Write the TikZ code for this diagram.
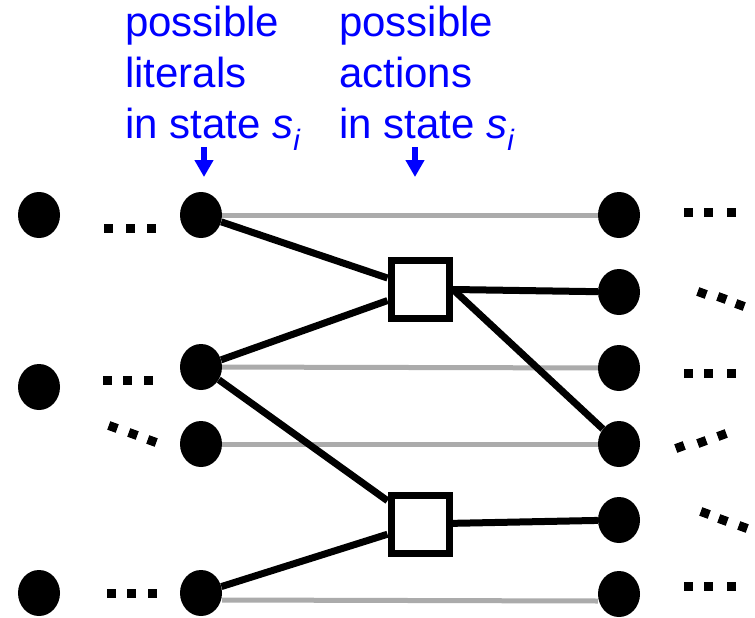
\documentclass[tikz,border=0pt]{standalone}
\usepackage{fontspec}
\setmainfont{Liberation Sans}
\usetikzlibrary{shapes.geometric,arrows.meta}
\definecolor{lblblue}{RGB}{0,0,255}

\tikzset{lit/.style = {ellipse, fill=black, minimum width=42pt, minimum height=46pt, inner sep=0pt},
         act/.style = {rectangle, draw, line width=7pt, minimum size=58pt, fill=white},
         persist/.style = {draw=black!33, line width=5pt},
         link/.style = {draw, line width=7pt},
         lbl/.style = {text=lblblue, align=left, anchor=north west, inner sep=0pt,
                       font=\fontsize{42}{50.7}\selectfont},
         down/.style = {draw=lblblue, line width=6.5pt, -{Triangle[width=18pt,length=17pt]}}
        }

\begin{document}
\begin{tikzpicture}[x=1pt,y=-1pt]
\useasboundingbox (0,0) rectangle (755,618);
\node[lbl] at (125,6) (tl) {possible\\literals\\in state \textit{s}\textsubscript{\textit{i}}};
\node[lbl] at (339,6) (ta) {possible\\actions\\in state \textit{s}\textsubscript{\textit{i}}};
\coordinate (al) at (204,147);
\coordinate (bl) at (204,177);
\coordinate (aa) at (415,147);
\coordinate (ba) at (415,177);
\draw[down] (al) -- (bl);
\draw[down] (aa) -- (ba);
% state s_{i-1}
\node[lit] at (39,215) (s1) {};
\node[lit] at (39,387) (s2) {};
\node[lit] at (39,593) (s3) {};
% literals in s_i
\node[lit] at (201,215) (l1) {};
\node[lit] at (201,367) (l2) {};
\node[lit] at (201,444) (l3) {};
\node[lit] at (201,593) (l4) {};
% actions
\node[act] at (420,289) (a1) {};
\node[act] at (420,524) (a2) {};
% literals in s_{i+1}
\node[lit] at (619,215) (r1) {};
\node[lit] at (619,292) (r2) {};
\node[lit] at (619,368) (r3) {};
\node[lit] at (619,444) (r4) {};
\node[lit] at (619,520) (r5) {};
\node[lit] at (619,594) (r6) {};
\draw[persist] (l1) -- (r1);
\draw[persist] (l2) -- (r3);
\draw[persist] (l3) -- (r4);
\draw[persist] ([yshift=-7pt]l4.east) -- ([yshift=-7pt]r6.west);
\draw[link] (l1) -- (a1);
\draw[link] (l2) -- (a1);
\draw[link] (l2) -- (a2);
\draw[link] (l4) -- (a2);
\draw[link] (a1) -- (r2);
\draw[link] (a1.east) -- (r4);
\draw[link] (a2) -- (r5);
% dots
\foreach \x/\y/\r in {108/228/0,130/228/0,151/228/0, 107/380/0,127/380/0,148/380/0,
                      113/427/-20,133/434/-20,152/441/-20, 111/593/0,131/593/0,152/593/0,
                      688/212/0,708/212/0,731/212/0, 702/293/-20,722/298/-20,740/305/-20,
                      688/373/0,708/373/0,731/373/0, 680/447/20,702/442/20,722/435/20,
                      705/513/-20,723/520/-20,743/527/-20, 688/586/0,708/586/0,731/586/0}
  \fill[rotate around={\r:(\x,\y)}] (\x-4.5,\y-4.5) rectangle (\x+4.5,\y+4.5);
\end{tikzpicture}
\end{document}
